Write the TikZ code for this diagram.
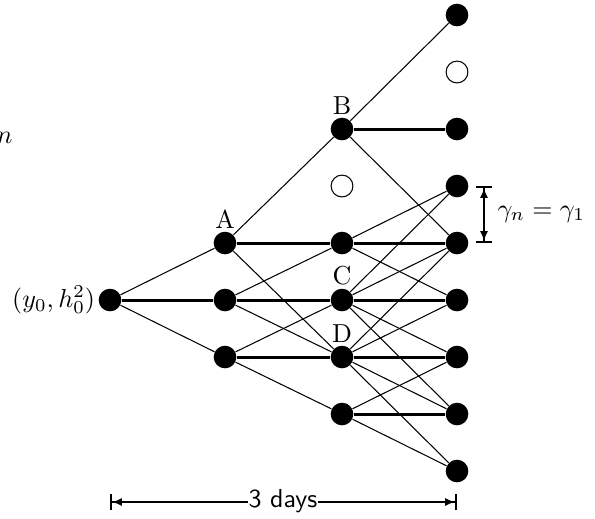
\documentclass[tikz,border=0pt]{standalone}
\usetikzlibrary{arrows.meta}
\begin{document}
\begin{tikzpicture}[x=0.3846pt,y=-0.3846pt,
  dot/.style={circle,fill=black,inner sep=0pt,minimum size=8.7pt},
  hole/.style={circle,draw=black,line width=0.4pt,inner sep=0pt,minimum size=8.4pt},
  br/.style={line width=0.4pt},
  hz/.style={line width=1.15pt},
  lab/.style={inner sep=1pt},
  dim/.style={line width=0.8pt,{Bar[width=6pt]Latex[length=3.8pt,width=3.2pt]}-{Latex[length=3.8pt,width=3.2pt]Bar[width=6pt]}}]
\useasboundingbox (0,0) rectangle (595,518);
% column 0
\node[dot] (r) at (110,300) {};
% column 1
\node[dot] (a1) at (225,243) {};
\node[dot] (a0) at (225,300) {};
\node[dot] (am) at (225,357) {};
% column 2
\node[dot] (b3) at (342,129) {};
\node[hole] (b2) at (342,186) {};
\node[dot] (b1) at (342,243) {};
\node[dot] (b0) at (342,300) {};
\node[dot] (bm1) at (342,357) {};
\node[dot] (bm2) at (342,414) {};
% column 3
\node[dot] (c5) at (457,15) {};
\node[hole] (c4) at (457,72) {};
\node[dot] (c3) at (457,129) {};
\node[dot] (c2) at (457,186) {};
\node[dot] (c1) at (457,243) {};
\node[dot] (c0) at (457,300) {};
\node[dot] (cm1) at (457,357) {};
\node[dot] (cm2) at (457,414) {};
\node[dot] (cm3) at (457,471) {};
% labels
\node[lab,anchor=east] (rl) at (r.west) {$(y_0,h_0^2)$};
\node[lab,anchor=south] (la) at (a1.north) {A};
\node[lab,anchor=south] (lb) at (b3.north) {B};
\node[lab,anchor=south] (lc) at (b0.north) {C};
\node[lab,anchor=south] (ld) at (bm1.north) {D};
\node[anchor=base east,inner sep=0pt] (nn) at (13,143) {$n$};
% edges column 0 -> 1
\draw[br] (r) -- (a1);
\draw[hz] (r) -- (a0);
\draw[br] (r) -- (am);
% edges column 1 -> 2
\draw[br] (a1) -- (b3);
\draw[hz] (a1) -- (b1);
\draw[br] (a1) -- (bm1);
\draw[br] (a0) -- (b1);
\draw[hz] (a0) -- (b0);
\draw[br] (a0) -- (bm1);
\draw[br] (am) -- (b0);
\draw[hz] (am) -- (bm1);
\draw[br] (am) -- (bm2);
% edges column 2 -> 3
\draw[br] (b3) -- (c5);
\draw[hz] (b3) -- (c3);
\draw[br] (b3) -- (c1);
\draw[br] (b1) -- (c2);
\draw[hz] (b1) -- (c1);
\draw[br] (b1) -- (c0);
\draw[br] (b0) -- (c2);
\draw[br] (b0) -- (c1);
\draw[hz] (b0) -- (c0);
\draw[br] (b0) -- (cm1);
\draw[br] (b0) -- (cm2);
\draw[br] (bm1) -- (c1);
\draw[br] (bm1) -- (c0);
\draw[hz] (bm1) -- (cm1);
\draw[br] (bm1) -- (cm2);
\draw[br] (bm1) -- (cm3);
\draw[br] (bm2) -- (cm1);
\draw[hz] (bm2) -- (cm2);
\draw[br] (bm2) -- (cm3);
% gamma dimension
\coordinate (g1) at (484,186);
\coordinate (g2) at (484,243);
\draw[dim] (g1) -- (g2);
\node[anchor=west,inner sep=0pt] (gl) at (497,214) {$\gamma_n=\gamma_1$};
% days dimension
\coordinate (d1) at (110,502);
\coordinate (d2) at (457,502);
\draw[dim] (d1) -- (d2);
\node[fill=white,inner sep=0.3pt] (dl) at (283,501) {\sffamily 3 days};
\end{tikzpicture}
\end{document}
